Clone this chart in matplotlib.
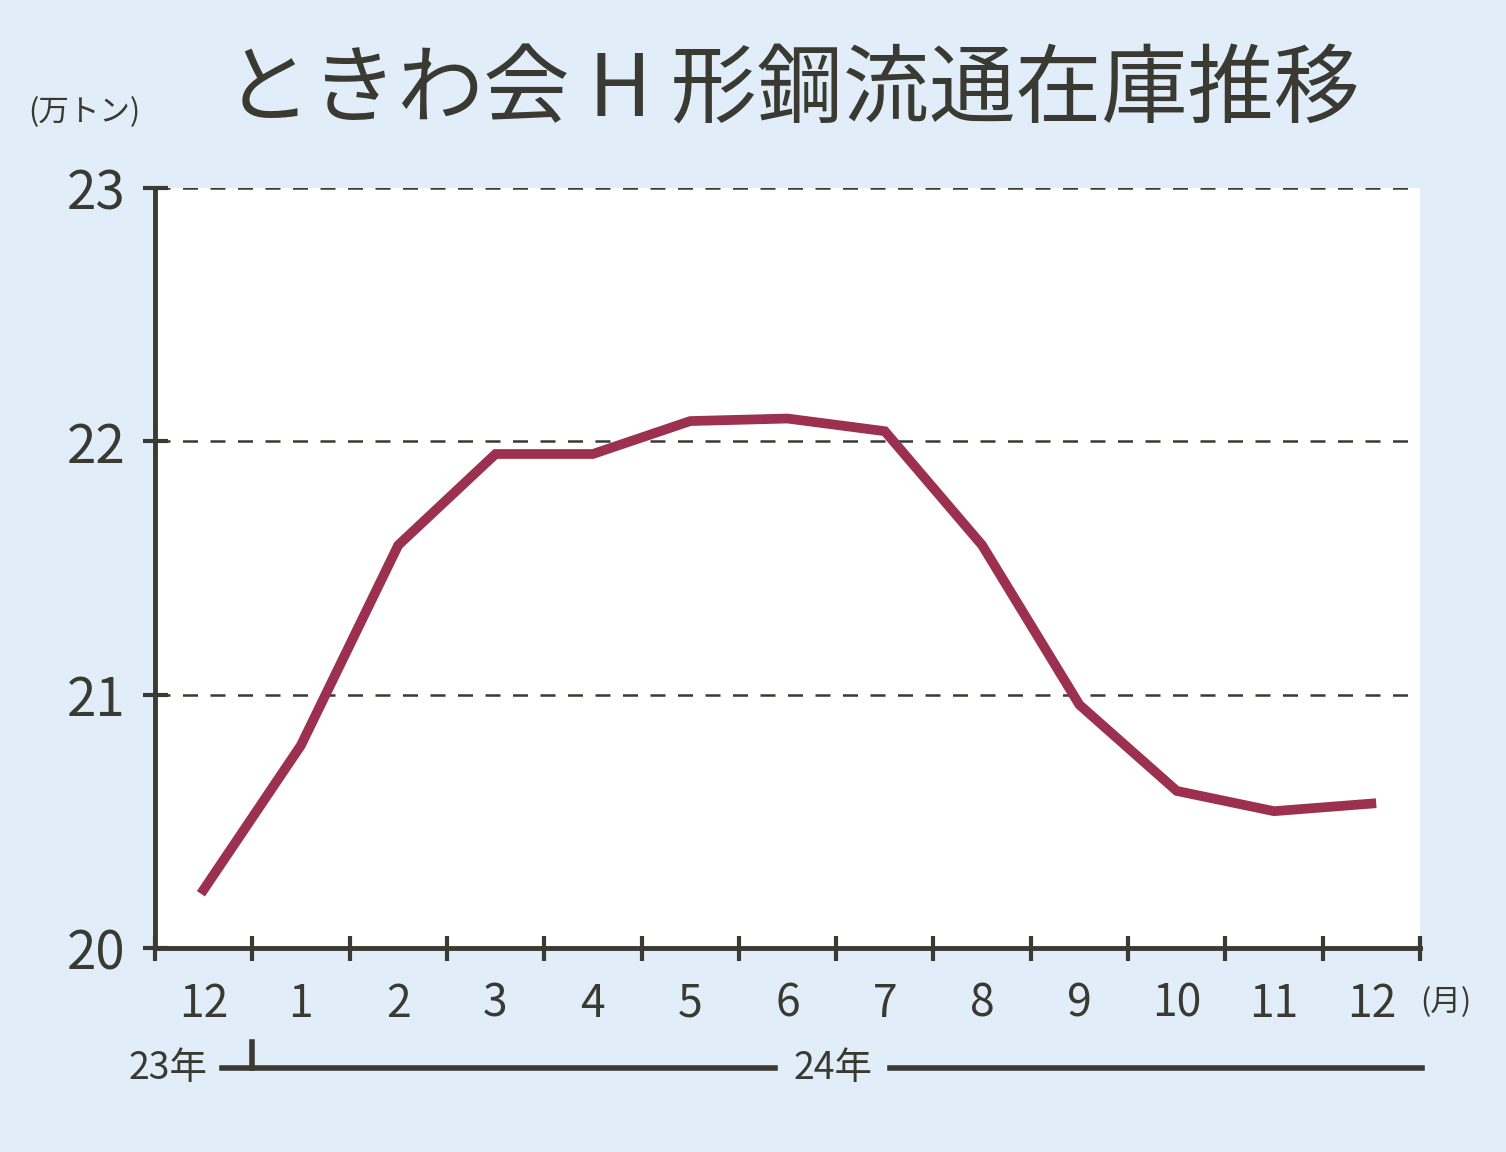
import matplotlib
matplotlib.use('Agg')
import matplotlib.pyplot as plt

plt.rcParams['font.family'] = ['Noto Sans CJK JP', 'DejaVu Sans']

months = ['12', '1', '2', '3', '4', '5', '6', '7', '8', '9', '10', '11', '12']
stock = [20.23, 20.80, 21.59, 21.95, 21.95, 22.08, 22.09, 22.04, 21.59, 20.96, 20.62, 20.54, 20.57]
yticks = [20, 21, 22, 23]

ink = '#3a3a32'
bg = '#e1eef9'

fig = plt.figure(figsize=(15.06, 11.52), dpi=100, facecolor=bg)
ax = fig.add_axes([0.1029, 0.1771, 0.840, 0.6597], facecolor='white')

x = list(range(len(stock)))
ax.plot(x, stock, color='#9b3050', lw=7, solid_joinstyle='miter', zorder=3)

for v in yticks[1:]:
    ax.axhline(v, color=ink, lw=1.8, ls=(0, (6, 5)), zorder=1)

ax.set_xlim(-0.5, len(stock) - 0.5)
ax.set_ylim(20, 23)
ax.set_xticks([i - 0.5 for i in range(len(stock) + 1)])
ax.set_xticklabels([])
ax.set_yticks(yticks)
ax.set_yticklabels([str(v) for v in yticks])
ax.tick_params(axis='both', direction='inout', length=18, width=3, color=ink, pad=12)
ax.tick_params(axis='y', labelsize=38, labelcolor=ink)
for s in ['top', 'right']:
    ax.spines[s].set_visible(False)
for s in ['left', 'bottom']:
    ax.spines[s].set_color(ink)
    ax.spines[s].set_linewidth(3.5)

for i, m in enumerate(months):
    ax.text(i, 19.78, m, ha='center', va='center', fontsize=32, color=ink)
fig.text(1446 / 1506, 1 - 1003 / 1152, '(月)', ha='center', va='center', fontsize=22, color=ink)
fig.text(28 / 1506, 1 - 113 / 1152, '(万トン)', ha='left', va='center', fontsize=22, color=ink)
fig.text(792 / 1506, 1 - 92 / 1152, 'ときわ会 H 形鋼流通在庫推移', ha='center', va='center',
         fontsize=62, color=ink)

# year line
fig.text(168 / 1506, 1 - 1068 / 1152, '23年', ha='center', va='center', fontsize=27, color=ink)
fig.text(833 / 1506, 1 - 1068 / 1152, '24年', ha='center', va='center', fontsize=27, color=ink)
fig.add_artist(plt.Line2D([222 / 1506, 775 / 1506], [1 - 1068 / 1152] * 2, color=ink, lw=4))
fig.add_artist(plt.Line2D([890 / 1506, 1422 / 1506], [1 - 1068 / 1152] * 2, color=ink, lw=4))
fig.add_artist(plt.Line2D([252 / 1506, 252 / 1506], [1 - 1068 / 1152, 1 - 1042 / 1152], color=ink, lw=4))

fig.savefig('out.png', dpi=100, facecolor=bg)
